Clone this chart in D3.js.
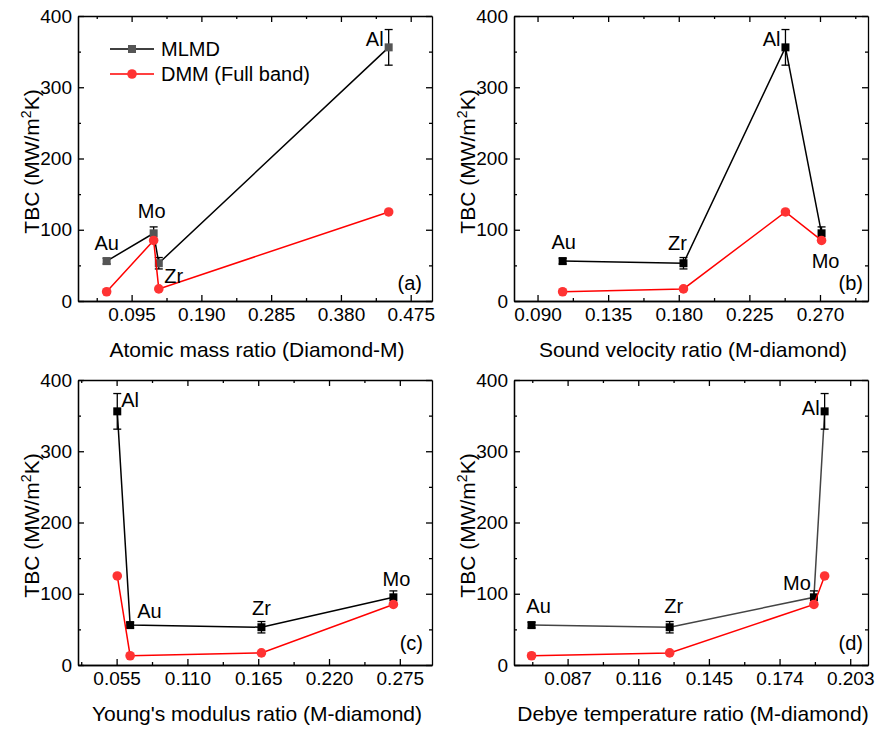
<!DOCTYPE html>
<html>
<head>
<meta charset="UTF-8">
<title>TBC vs ratios</title>
<script src="https://d3js.org/d3.v7.min.js"></script>
<style>
  body { margin: 0; background: #fff; font-family: "Liberation Sans", Arial, sans-serif; }
  svg text { font-family: "Liberation Sans", Arial, sans-serif; fill: #000; }
  .axis path, .axis line { stroke: #000; stroke-width: 1.3; }
  .axis text { font-size: 19px; }
</style>
</head>
<body>
<svg width="878" height="729"></svg>
<script>
// materials in the same order for every array
const materials = ["Au", "Mo", "Zr", "Al"];
const mlmd = [56, 95, 53, 356];
const mlmdErr = [4, 9, 8, 25];
const dmm = [13, 85, 17, 125];

const massRatio = [0.061, 0.125, 0.132, 0.445];
const soundRatio = [0.106, 0.271, 0.183, 0.248];
const youngRatio = [0.0655, 0.270, 0.1675, 0.0555];
const debyeRatio = [0.0722, 0.1881, 0.1289, 0.1925];

const xTicksA = [0.095, 0.190, 0.285, 0.380, 0.475];
const xTicksB = [0.090, 0.135, 0.180, 0.225, 0.270];
const xTicksC = [0.055, 0.110, 0.165, 0.220, 0.275];
const xTicksD = [0.087, 0.116, 0.145, 0.174, 0.203];
const yTicks = [0, 100, 200, 300, 400];

const svg = d3.select("svg");
const W = 354, H = 285;

const panels = [
  { tag: "(a)", xs: massRatio, domain: [0.022, 0.504], ticks: xTicksA, left: 78, top: 16,
    title: "Atomic mass ratio (Diamond-M)", markColor: "#555", lineColor: "#000", legend: true,
    letter: [-10, -11],
    labels: { Au: [0, -11, "middle"], Mo: [-2, -15, "middle"], Zr: [15, 20, "middle"], Al: [-5, -1, "end"] } },
  { tag: "(b)", xs: soundRatio, domain: [0.075, 0.3006], ticks: xTicksB, left: 514, top: 16,
    title: "Sound velocity ratio (M-diamond)", markColor: "#000", lineColor: "#000",
    letter: [-5, -11],
    labels: { Au: [1, -12, "middle"], Zr: [-6, -13, "middle"], Al: [-5, -1, "end"], Mo: [4, 35, "middle"] } },
  { tag: "(c)", xs: youngRatio, domain: [0.025, 0.300], ticks: xTicksC, left: 78, top: 380,
    title: "Young's modulus ratio (M-diamond)", markColor: "#000", lineColor: "#000",
    letter: [-9, -15],
    labels: { Al: [4, -4, "start"], Au: [7, -7, "start"], Zr: [0, -12, "middle"], Mo: [3, -11, "middle"] } },
  { tag: "(d)", xs: debyeRatio, domain: [0.065, 0.2103], ticks: xTicksD, left: 514, top: 380,
    title: "Debye temperature ratio (M-diamond)", markColor: "#000", lineColor: "#444",
    letter: [-5, -15],
    labels: { Au: [7, -12, "middle"], Zr: [4, -14, "middle"], Mo: [-3, -7, "end"], Al: [-5, 4, "end"] } }
];

function minorOf(ticks, domain) {
  const step = ticks[1] - ticks[0];
  const out = [];
  for (let i = -1; i < ticks.length; i++) {
    const v = ticks[0] + (i + 0.5) * step;
    if (v > domain[0] && v < domain[1]) out.push(v);
  }
  return out;
}

panels.forEach(p => {
  const g = svg.append("g").attr("transform", `translate(${p.left},${p.top})`);
  const x = d3.scaleLinear().domain(p.domain).range([0, W]);
  const y = d3.scaleLinear().domain([0, 400]).range([H, 0]);
  const xMinor = minorOf(p.ticks, p.domain);
  const yMinor = [50, 150, 250, 350];

  // axes: ticks point inward on all four sides
  g.append("g").attr("class", "axis").attr("transform", `translate(0,${H})`)
    .call(d3.axisBottom(x).tickValues(p.ticks).tickFormat(d3.format(".3f")).tickSizeInner(-6).tickSizeOuter(0).tickPadding(7));
  g.append("g").attr("class", "axis").attr("transform", `translate(0,${H})`)
    .call(d3.axisBottom(x).tickValues(xMinor).tickFormat("").tickSizeInner(-3).tickSizeOuter(0));
  g.append("g").attr("class", "axis")
    .call(d3.axisTop(x).tickValues(p.ticks.concat(xMinor)).tickFormat("").tickSizeInner(-6).tickSizeOuter(0))
    .selectAll(".tick line").attr("y2", d => xMinor.includes(d) ? 3 : 6);
  g.append("g").attr("class", "axis")
    .call(d3.axisLeft(y).tickValues(yTicks).tickSizeInner(-6).tickSizeOuter(0).tickPadding(6));
  g.append("g").attr("class", "axis")
    .call(d3.axisLeft(y).tickValues(yMinor).tickFormat("").tickSizeInner(-3).tickSizeOuter(0));
  g.append("g").attr("class", "axis").attr("transform", `translate(${W},0)`)
    .call(d3.axisRight(y).tickValues(yTicks.concat(yMinor)).tickFormat("").tickSizeInner(-6).tickSizeOuter(0))
    .selectAll(".tick line").attr("x2", d => yMinor.includes(d) ? -3 : -6);

  // axis titles
  g.append("text").attr("x", W / 2 + 2).attr("y", H + 56).attr("text-anchor", "middle")
    .style("font-size", "21px").text(p.title);
  const yt = g.append("text").attr("transform", `translate(-39,${H / 2 + 3}) rotate(-90)`)
    .attr("text-anchor", "middle").style("font-size", "21px");
  yt.append("tspan").text("TBC (MW/m");
  yt.append("tspan").attr("dy", -8).style("font-size", "14px").text("2");
  yt.append("tspan").attr("dy", 8).text("K)");

  const pts = materials.map((m, i) => ({ m, x: p.xs[i], v: mlmd[i], e: mlmdErr[i], d: dmm[i] }))
    .sort((a, b) => a.x - b.x);

  // MLMD
  g.append("path").datum(pts)
    .attr("d", d3.line().x(d => x(d.x)).y(d => y(d.v)))
    .attr("fill", "none").attr("stroke", p.lineColor).attr("stroke-width", 1.5);
  const eb = g.selectAll(".eb").data(pts).enter().append("g").attr("class", "eb");
  eb.append("line").attr("x1", d => x(d.x)).attr("x2", d => x(d.x))
    .attr("y1", d => y(d.v - d.e)).attr("y2", d => y(d.v + d.e)).attr("stroke", "#000").attr("stroke-width", 1.3);
  [-1, 1].forEach(s => {
    eb.append("line").attr("x1", d => x(d.x) - 4).attr("x2", d => x(d.x) + 4)
      .attr("y1", d => y(d.v + s * d.e)).attr("y2", d => y(d.v + s * d.e)).attr("stroke", "#000").attr("stroke-width", 1.3);
  });
  g.selectAll(".sq").data(pts).enter().append("rect")
    .attr("x", d => x(d.x) - 4).attr("y", d => y(d.v) - 4).attr("width", 8).attr("height", 8)
    .attr("fill", p.markColor);

  // DMM
  g.append("path").datum(pts)
    .attr("d", d3.line().x(d => x(d.x)).y(d => y(d.d)))
    .attr("fill", "none").attr("stroke", "#ff0000").attr("stroke-width", 1.5);
  g.selectAll(".ci").data(pts).enter().append("circle")
    .attr("cx", d => x(d.x)).attr("cy", d => y(d.d)).attr("r", 4.8).attr("fill", "#ff3333");

  // element labels
  pts.forEach(d => {
    const o = p.labels[d.m];
    g.append("text").attr("x", x(d.x) + o[0]).attr("y", y(d.v) + o[1])
      .attr("text-anchor", o[2]).style("font-size", "20px").text(d.m);
  });

  g.append("text").attr("x", W + p.letter[0]).attr("y", H + p.letter[1]).attr("text-anchor", "end")
    .style("font-size", "20px").text(p.tag);

  if (p.legend) {
    const lg = [
      { name: "MLMD", color: "#000", mark: "#555", sq: true, yy: 33 },
      { name: "DMM (Full band)", color: "#ff0000", mark: "#ff3333", sq: false, yy: 58 }
    ];
    lg.forEach(l => {
      g.append("line").attr("x1", 32).attr("x2", 76).attr("y1", l.yy).attr("y2", l.yy)
        .attr("stroke", l.color).attr("stroke-width", 1.5);
      if (l.sq) g.append("rect").attr("x", 50).attr("y", l.yy - 4).attr("width", 8).attr("height", 8).attr("fill", l.mark);
      else g.append("circle").attr("cx", 54).attr("cy", l.yy).attr("r", 4.8).attr("fill", l.mark);
      g.append("text").attr("x", 83).attr("y", l.yy + 7).style("font-size", "20px").text(l.name);
    });
  }
});
</script>
</body>
</html>
